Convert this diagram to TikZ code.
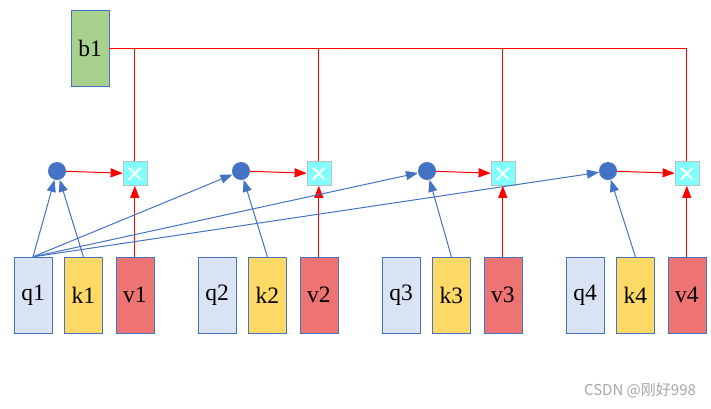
\documentclass[tikz,border=0pt]{standalone}
\usepackage{fontspec}
\setmainfont{Liberation Serif}
\newfontfamily\cjk{Noto Sans CJK SC}
\usepackage{tikz}
\usetikzlibrary{arrows.meta, positioning}
\definecolor{QBlue}{HTML}{DAE3F3}
\definecolor{KYellow}{HTML}{FFD966}
\definecolor{VRed}{HTML}{EE7373}
\definecolor{BGreen}{HTML}{A9D18E}
\definecolor{EdgeBlue}{HTML}{4472C4}
\definecolor{MulCyan}{HTML}{80FFFF}

\begin{document}
\begin{tikzpicture}[x=1pt, y=-1pt,
    vec/.style={draw=EdgeBlue, minimum width=38pt, minimum height=76pt, inner sep=0pt, font=\fontsize{23.5}{23.5}\selectfont},
    qvec/.style={vec, fill=QBlue},
    kvec/.style={vec, fill=KYellow},
    vvec/.style={vec, fill=VRed},
    dotnode/.style={circle, fill=EdgeBlue, minimum size=18pt, inner sep=0pt},
    mulbox/.style={draw=gray!50, fill=MulCyan, minimum size=24pt, inner sep=0pt},
    blueedge/.style={draw=EdgeBlue, line width=1pt, -{Triangle[length=12pt, width=9pt]}},
    rededge/.style={draw=red, line width=1pt, -{Triangle[length=12pt, width=9pt]}},
    redline/.style={draw=red, line width=1pt}]
        \useasboundingbox (0,0) rectangle (711,408);
        % bias
        \node[vec, fill=BGreen] (b1) at (90,48) {b1};
        % q, k, v and products
        \foreach \i/\x/\dx in {1/33/24, 2/217/24, 3/401/26, 4/585/23} {
            \node[qvec] (q\i) at (\x,295) {q\i};
            \node[kvec, right=12pt of q\i] (k\i) {k\i};
            \node[vvec, right=13pt of k\i] (v\i) {v\i};
            \node[mulbox, above=71pt of v\i] (m\i) {};
            \draw[white, line width=2pt] (m\i.center) ++(-6,-6) -- ++(12,12);
            \draw[white, line width=2pt] (m\i.center) ++(6,-6) -- ++(-12,12);
            \node[dotnode] (d\i) at (\x+\dx,171) {};
        }
        \foreach \i in {1,...,4} {
            \draw[blueedge] (q1.north) -- (d\i);
            \draw[blueedge] (k\i.north) -- (d\i);
            \draw[rededge] (d\i) -- (m\i);
            \draw[rededge] (v\i) -- (m\i);
            \draw[redline] (b1 -| m\i) -- (m\i);
        }
        \draw[redline] (b1) -- (b1 -| m4);
        \node[font=\cjk\fontsize{15}{15}\selectfont, text=gray!70] (mark) at (640,390) {CSDN @刚好998};
      \end{tikzpicture}
\end{document}
